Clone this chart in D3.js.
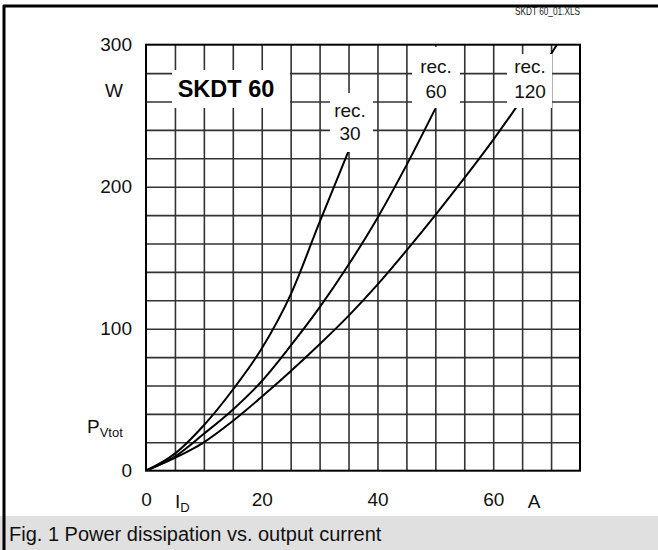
<!DOCTYPE html>
<html><head><meta charset="utf-8">
<script src="https://cdn.jsdelivr.net/npm/d3@7"></script>
<style>body{margin:0;background:#fff}svg{display:block}text{font-family:"Liberation Sans",Arial,sans-serif}</style>
</head><body>
<svg id="c" width="658" height="550"></svg>
<script>
// ---- data ----
const xTicks = [0, 20, 40, 60];
const yTicks = [0, 100, 200, 300];
const rec30I = [0, 5, 10, 15, 20, 25, 30, 35];
const rec30P = [0, 12, 32, 57, 86, 124, 175, 225];
const rec60I = [0, 5, 10, 15, 20, 25, 30, 35, 40, 45, 50];
const rec60P = [0, 10, 26, 43, 63, 88, 115, 145, 178, 215, 255];
const rec120I = [0, 5, 10, 15, 20, 25, 30, 35, 40, 45, 50, 55, 60, 65, 71];
const rec120P = [0, 9, 20, 35, 52, 70, 89, 109, 131, 155, 180, 206, 233, 262, 300];
const seriesNames = ["rec. 30", "rec. 60", "rec. 120"];

const svg = d3.select("#c");
const L = 146, T = 44.7, W = 434, H = 426;
const x = d3.scaleLinear().domain([0, 75]).range([L, L + W]);
const y = d3.scaleLinear().domain([0, 300]).range([T + H, T]);

// outer frame and caption
svg.append("rect").attr("x", 0).attr("y", 516).attr("width", 658).attr("height", 34).attr("fill", "#e0e0e0");
svg.append("line").attr("x1", 4).attr("x2", 4).attr("y1", 5).attr("y2", 550).attr("stroke", "#000").attr("stroke-width", 3);
svg.append("line").attr("x1", 3).attr("x2", 658).attr("y1", 6).attr("y2", 6).attr("stroke", "#000").attr("stroke-width", 3);
svg.append("text").attr("x", 9).attr("y", 541).attr("font-size", 20).attr("fill", "#111")
  .text("Fig. 1 Power dissipation vs. output current");
svg.append("text").attr("transform", "translate(580,15) scale(0.75,1)").attr("text-anchor", "end").attr("font-size", 11)
  .attr("fill", "#222").text("SKDT 60_01.XLS");

// grid via axes
const gx = svg.append("g").attr("transform", `translate(0,${T + H})`)
  .call(d3.axisBottom(x).tickValues(d3.range(5, 75, 5)).tickSize(-H).tickFormat(""));
const gy = svg.append("g").attr("transform", `translate(${L},0)`)
  .call(d3.axisLeft(y).tickValues(d3.range(20, 300, 20)).tickSize(-W).tickFormat(""));
[gx, gy].forEach(g => {
  g.select(".domain").remove();
  g.selectAll("line").attr("stroke", "#333").attr("stroke-width", 1.6);
});

// curves
svg.append("clipPath").attr("id", "pc").append("rect")
  .attr("x", L).attr("y", T).attr("width", W).attr("height", H);
const line = d3.line().x(d => x(d[0])).y(d => y(d[1])).curve(d3.curveMonotoneX);
const series = [
  d3.zip(rec30I, rec30P), d3.zip(rec60I, rec60P), d3.zip(rec120I, rec120P)
];
svg.append("g").attr("clip-path", "url(#pc)").selectAll("path").data(series).join("path")
  .attr("d", line).attr("fill", "none").attr("stroke", "#000").attr("stroke-width", 2);

// label boxes (white) and texts
const boxes = [
  {x0: 172, x1: 290, y0: 70, y1: 108},
  {x0: 330, x1: 373, y0: 93, y1: 152},
  {x0: 412, x1: 460, y0: 47, y1: 108},
  {x0: 507, x1: 552, y0: 54, y1: 108}
];
svg.selectAll("rect.box").data(boxes).join("rect").attr("class", "box")
  .attr("x", d => d.x0).attr("y", d => d.y0).attr("width", d => d.x1 - d.x0).attr("height", d => d.y1 - d.y0)
  .attr("fill", "#fff");

svg.append("text").attr("x", 226).attr("y", 97).attr("text-anchor", "middle")
  .attr("font-size", 23.5).attr("font-weight", "bold").text("SKDT 60");
const recPos = [[350, 117, 140], [436, 73, 98], [530, 73, 98]];
seriesNames.forEach((n, i) => {
  const [cx, y1, y2] = recPos[i];
  const parts = n.split(" ");
  svg.append("text").attr("x", cx).attr("y", y1).attr("text-anchor", "middle").attr("font-size", 19).attr("fill", "#111").text(parts[0]);
  svg.append("text").attr("x", cx).attr("y", y2).attr("text-anchor", "middle").attr("font-size", 19).attr("fill", "#111").text(parts[1]);
});

// plot border
svg.append("rect").attr("x", L).attr("y", T).attr("width", W).attr("height", H)
  .attr("fill", "none").attr("stroke", "#000").attr("stroke-width", 2);

// tick labels via axes
const ax = svg.append("g").attr("transform", `translate(0,${T + H})`)
  .call(d3.axisBottom(x).tickValues(xTicks).tickSize(0).tickPadding(22).tickFormat(d3.format("d")));
const ay = svg.append("g").attr("transform", `translate(${L},0)`)
  .call(d3.axisLeft(y).tickValues(yTicks).tickSize(0).tickPadding(14).tickFormat(d3.format("d")));
[ax, ay].forEach(g => {
  g.select(".domain").remove();
  g.selectAll("text").attr("font-size", 19).attr("fill", "#111").attr("font-family", '"Liberation Sans",Arial,sans-serif');
});
ax.selectAll("text").attr("dy", "0.71em");

// axis titles
svg.append("text").attr("x", 114).attr("y", 97).attr("text-anchor", "middle").attr("font-size", 19).attr("fill", "#111").text("W");
const pt = svg.append("text").attr("x", 87).attr("y", 433).attr("font-size", 19).attr("fill", "#111");
pt.append("tspan").text("P");
pt.append("tspan").attr("font-size", 13).attr("dy", 4).text("Vtot");
const it = svg.append("text").attr("x", 175).attr("y", 508).attr("font-size", 19).attr("fill", "#111");
it.append("tspan").text("I");
it.append("tspan").attr("font-size", 13).attr("dy", 4).text("D");
svg.append("text").attr("x", 534).attr("y", 508).attr("text-anchor", "middle").attr("font-size", 19).attr("fill", "#111").text("A");
</script>
</body></html>
